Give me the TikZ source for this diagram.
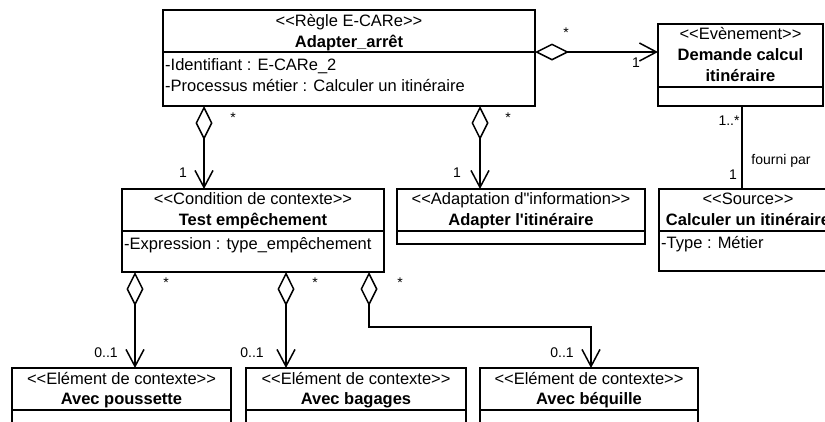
\documentclass[tikz,border=0pt]{standalone}
\usepackage{fontspec}
\newfontfamily\umlfont{Liberation Sans}[Ligatures=TeXOff]
\usetikzlibrary{arrows.meta}
\begin{document}
\begin{tikzpicture}[x=1pt,y=-1pt,
  cls/.style={draw, line width=1.5pt, anchor=north west, inner sep=0pt, outer sep=0pt},
  sepline/.style={line width=1.5pt},
  txt/.style={inner sep=0pt, text height=11.8pt, text depth=3.5pt, font=\umlfont\fontsize{16.5}{20}\selectfont},
  btxt/.style={txt, font=\umlfont\bfseries\fontsize{16.5}{20}\selectfont},
  lab/.style={inner sep=0pt, font=\umlfont\fontsize{14}{16}\selectfont},
  conn/.style={line width=1.5pt},
  agg/.style={conn, {Diamond[open,length=34pt,width=17pt]}-{Straight Barb[length=17pt,width=18pt]}},
]
\useasboundingbox (0,0) rectangle (825,421);
\clip (0,0) rectangle (825,421);
\fill[white] (0,0) rectangle (825,421);

% boxes
\node[cls, minimum width=372pt, minimum height=96pt] (rule) at (163,10) {};
\node[cls, minimum width=165pt, minimum height=82pt] (event) at (658,24) {};
\node[cls, minimum width=262pt, minimum height=83pt] (cond) at (122,189) {};
\node[cls, minimum width=248pt, minimum height=55pt] (adapt) at (397,189) {};
\node[cls, minimum width=178pt, minimum height=82pt] (source) at (659,189) {};
\node[cls, minimum width=219pt, minimum height=80pt] (b1) at (12,368) {};
\node[cls, minimum width=220pt, minimum height=80pt] (b2) at (246,368) {};
\node[cls, minimum width=218pt, minimum height=80pt] (b3) at (480,368) {};

% separators
\draw[sepline] (rule.west |- 0,52) -- (rule.east |- 0,52);
\draw[sepline] (event.west |- 0,87) -- (event.east |- 0,87);
\draw[sepline] (cond.west |- 0,231) -- (cond.east |- 0,231);
\draw[sepline] (adapt.west |- 0,231) -- (adapt.east |- 0,231);
\draw[sepline] (source.west |- 0,231) -- (source.east |- 0,231);
\draw[sepline] (b1.west |- 0,410) -- (b1.east |- 0,410);
\draw[sepline] (b2.west |- 0,410) -- (b2.east |- 0,410);
\draw[sepline] (b3.west |- 0,410) -- (b3.east |- 0,410);

% texts
\node[txt] (t1a) at (349,22) {<<Règle E-CARe>>};
\node[btxt] (t1b) at (349,43) {Adapter\_arrêt};
\node[txt, anchor=west] (t1c) at (165,66) {-Identifiant : E-CARe\_2};
\node[txt, anchor=west] (t1d) at (165,87) {-Processus métier : Calculer un itinéraire};

\node[txt] (t2a) at (740.5,35) {<<Evènement>>};
\node[btxt] (t2b) at (740.5,56) {Demande calcul};
\node[btxt] (t2c) at (740.5,77) {itinéraire};

\node[txt] (t3a) at (253,200) {<<Condition de contexte>>};
\node[btxt] (t3b) at (253,221) {Test empêchement};
\node[txt, anchor=west] (t3c) at (124,245) {-Expression : type\_empêchement};

\node[txt] (t4a) at (521,200) {<<Adaptation d"information>>};
\node[btxt] (t4b) at (521,221) {Adapter l'itinéraire};

\node[txt] (t5a) at (748,200) {<<Source>>};
\node[btxt] (t5b) at (748,221) {Calculer un itinéraire};
\node[txt, anchor=west] (t5c) at (661,244) {-Type : Métier};

\node[txt] (t6a) at (121.5,380) {<<Elément de contexte>>};
\node[btxt] (t6b) at (121.5,400) {Avec poussette};
\node[txt] (t7a) at (356,380) {<<Elément de contexte>>};
\node[btxt] (t7b) at (356,400) {Avec bagages};
\node[txt] (t8a) at (589,380) {<<Elément de contexte>>};
\node[btxt] (t8b) at (589,400) {Avec béquille};

% connectors
\draw[agg] (rule.south -| 204,0) -- (cond.north -| 204,0);
\draw[agg] (rule.south -| 480,0) -- (adapt.north -| 480,0);
\draw[agg] (rule.east |- 0,52) -- (event.west |- 0,52);
\draw[conn] (event.south -| 742,0) -- (source.north -| 742,0);
\draw[agg] (cond.south -| 135,0) -- (b1.north -| 135,0);
\draw[agg] (cond.south -| 286,0) -- (b2.north -| 286,0);
\draw[agg] (cond.south -| 369,0) -- (369,327) -- (591,327) -- (b3.north -| 591,0);

% multiplicities
\node[lab] (m1) at (233,118) {*};
\node[lab] (m2) at (183,173) {1};
\node[lab] (m3) at (508,118) {*};
\node[lab] (m4) at (457,173) {1};
\node[lab] (m5) at (566,33) {*};
\node[lab] (m6) at (636,63) {1};
\node[lab] (m7) at (729,121) {1..*};
\node[lab] (m8) at (733,175) {1};
\node[lab] (m9) at (781,161) {fourni par};
\node[lab] (m10) at (166,283) {*};
\node[lab] (m11) at (315,283) {*};
\node[lab] (m12) at (400,283) {*};
\node[lab] (m13) at (106,353) {0..1};
\node[lab] (m14) at (252,353) {0..1};
\node[lab] (m15) at (562,353) {0..1};
\end{tikzpicture}
\end{document}
